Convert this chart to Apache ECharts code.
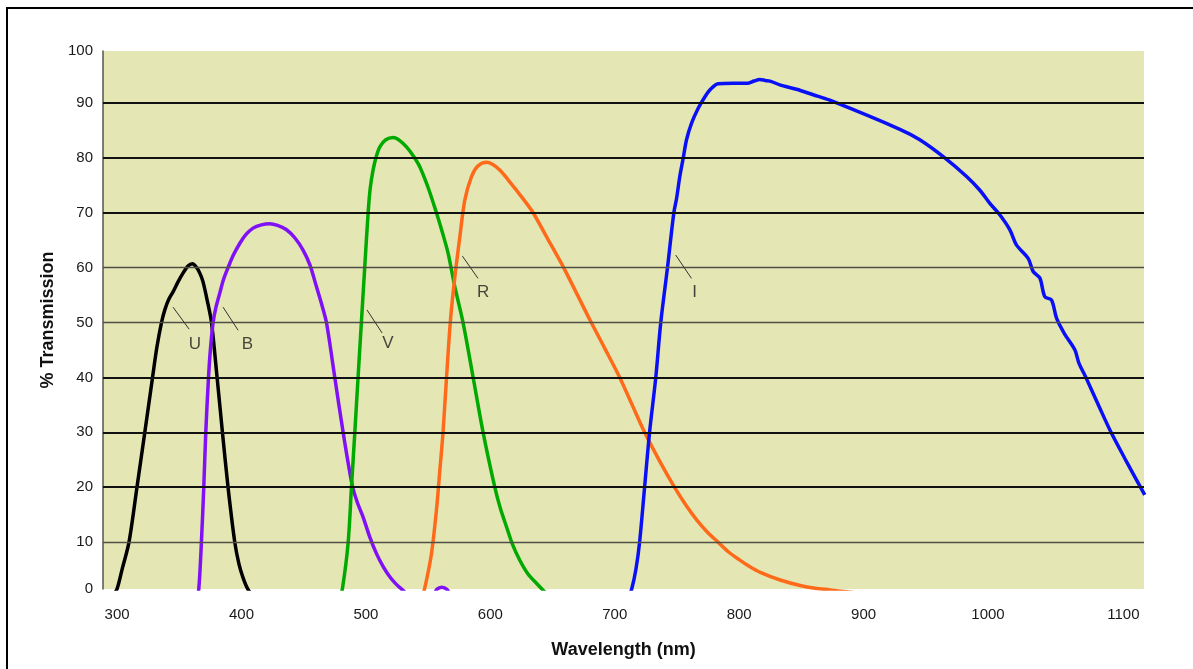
<!DOCTYPE html>
<html>
<head>
<meta charset="utf-8">
<title>UBVRI filter transmission</title>
<script src="https://cdn.jsdelivr.net/npm/echarts@6/dist/echarts.min.js"></script>
<style>
  html, body { margin: 0; padding: 0; background: #fff; overflow: hidden; }
  #chart { position: absolute; left: 0; top: 0; width: 1193px; height: 669px; }
  #frame {
    position: absolute; left: 6px; top: 7px; width: 1187px; height: 662px;
    border-left: 2px solid #000; border-top: 2px solid #000;
    box-sizing: border-box; pointer-events: none;
  }
</style>
</head>
<body>
<div id="chart"></div>
<div id="frame"></div>
<script>
// axis ranges (the plot edges sit a little outside the labelled ticks)
const xMin = 288.7;
const xMax = 1125.4;
const yMin = 1.46;
const yMax = 99.47;

// tick labels
const xTicks = [300, 400, 500, 600, 700, 800, 900, 1000, 1100];
const yTicks = [0, 10, 20, 30, 40, 50, 60, 70, 80, 90, 100];

// horizontal rules: heavy and light
const heavyRules = [20, 30, 40, 70, 80, 90];
const lightRules = [10, 50, 60];

// filter curves [wavelength nm, % transmission]
const uCurve = [
  [296, 0], [300, 1.5], [304, 5], [309.6, 10], [316, 20], [322.3, 30], [328.5, 40],
  [332, 45.5], [335.7, 50], [338.5, 52.4], [341.5, 54.2], [345, 55.6], [349, 57.4],
  [353, 59], [357, 60.3], [360.6, 60.7], [364, 60], [366.5, 59], [369, 57.5],
  [372.5, 54], [375.9, 50], [380.4, 40], [384.7, 30], [389.2, 20], [394.6, 10],
  [398, 6], [401.3, 3.5], [405, 1.5], [410, 0]
];
const bCurve = [
  [364, 0], [365.7, 1.5], [367.8, 10], [369.7, 20], [371.3, 30], [373.5, 40],
  [375, 45], [377.2, 50], [379.5, 52.8], [382.6, 55.4], [385.5, 57.8], [389.2, 60],
  [393.5, 62.3], [398.6, 64.4], [403.5, 66], [409.3, 67.2], [416, 67.8], [422.7, 68],
  [429, 67.7], [436.2, 66.9], [443, 65.4], [449.5, 63.2], [455, 60.5], [460.3, 56.5],
  [464.5, 53.3], [468.3, 50], [475, 40], [481.7, 30], [488.9, 20.5], [493, 17.3],
  [497.7, 14.6], [503, 11], [508.5, 7.9], [514, 5.5], [519.2, 3.7], [524.5, 2.3],
  [529.9, 1.2], [536, 0], [553, 0], [557, 1.4], [561, 1.8], [565, 1.4], [569, 0]
];
const vCurve = [
  [479, 0], [481.2, 1.6], [485.7, 9.8], [488.4, 20], [491.1, 30], [493.7, 40],
  [496.5, 50.5], [499.1, 60.2], [501.8, 70], [503.5, 74.5], [505.8, 77.8], [508.3, 80.2],
  [511.2, 82], [516, 83.3], [521.9, 83.7], [527, 83.2], [532.6, 82], [538, 80.4],
  [543.3, 78.4], [550, 74.6], [556.7, 70], [561.5, 66.4], [566.1, 62.6], [571.5, 56.5],
  [578.1, 50], [586.2, 40], [594.2, 30], [603.6, 20], [608, 16.2], [613, 12.8],
  [618, 9.5], [623.7, 6.7], [630, 4.3], [637.1, 2.5], [646, 0.5], [652, 0]
];
const rCurve = [
  [545, 0], [547.3, 1.6], [552.7, 7.9], [556.7, 15.8], [559.4, 23], [562, 30],
  [564.8, 40], [568, 50.5], [571.5, 58.3], [575.5, 65.6], [579.5, 72.3], [584.9, 76.6],
  [590, 78.5], [596.9, 79.2], [602, 78.8], [607.6, 77.8], [614, 76.1], [621, 74.1],
  [627.5, 72.2], [634.4, 70], [646, 65.3], [658.5, 60.2], [669, 55.5], [680, 50.5],
  [692, 45.3], [704, 40], [714, 35], [724, 30], [736, 24.8], [748, 20], [757, 16.8],
  [766, 14], [774.5, 11.8], [783, 10], [791.5, 8.2], [800, 6.8], [808, 5.6], [817, 4.5],
  [833, 3.1], [849, 2.1], [861, 1.6], [873, 1.3], [900, 0.6], [930, 0]
];
const iCurve = [
  [711, 0], [713.7, 1.5], [717, 5], [720, 10], [724, 20], [728, 30], [733, 40],
  [737, 50], [742.4, 60], [747.5, 70], [749.7, 72.6], [752.3, 76.6], [755, 79.9],
  [757.7, 83.3], [761.7, 86.3], [767, 89], [772.4, 91.1], [777, 92.5], [783.1, 93.5],
  [795.2, 93.6], [807.2, 93.6], [812, 94], [816.6, 94.3], [821, 94.1], [826, 93.9],
  [832.7, 93.3], [846.1, 92.5], [859.5, 91.5], [872.9, 90.5], [929.2, 85.2],
  [945.2, 83.3], [965.3, 80], [982.8, 76.6], [993.5, 74.1], [1001.5, 71.7],
  [1009.6, 69.6], [1017.6, 66.9], [1023, 64.1], [1032.3, 61.7], [1036.3, 59.3],
  [1041.7, 58.1], [1045.7, 54.7], [1051.1, 54.1], [1055.1, 50.8], [1061.4, 48],
  [1069.9, 45], [1073.1, 42.6], [1078.5, 40.1], [1089.3, 34.7], [1098.7, 30.1],
  [1110.8, 24.9], [1126, 18.6]
];

// curve labels and their leader lines
const labelNames = ['U', 'B', 'V', 'R', 'I'];
const labelPoints = [[362.5, 46.1], [404.8, 46.0], [517.8, 46.2], [594.2, 55.5], [764.3, 55.6]];
const leaderStarts = [[345.0, 52.8], [385.2, 52.8], [500.9, 52.3], [577.6, 62.1], [749.0, 62.3]];
const leaderEnds = [[357.9, 48.8], [397.3, 48.6], [513.0, 48.1], [590.1, 58.05], [761.7, 58.05]];

const curveSeries = [
  { name: 'U', data: uCurve, color: '#000000' },
  { name: 'B', data: bCurve, color: '#8010F5' },
  { name: 'V', data: vCurve, color: '#00AA00' },
  { name: 'R', data: rCurve, color: '#FF6A1A' },
  { name: 'I', data: iCurve, color: '#0A10F5' }
];

const tickFont = { fontFamily: 'Liberation Sans, Arial, sans-serif', fontSize: 15, color: '#1a1a1a' };
const titleFont = { fontFamily: 'Liberation Sans, Arial, sans-serif', fontSize: 18, fontWeight: 'bold', color: '#111' };

const chart = echarts.init(document.getElementById('chart'));

const option = {
  animation: false,
  grid: {
    left: 103, top: 51, right: 49, bottom: 80,
    show: true, backgroundColor: '#E4E6B3', borderWidth: 0
  },
  xAxis: {
    type: 'value',
    min: xMin,
    max: xMax,
    name: 'Wavelength (nm)',
    nameLocation: 'middle',
    nameGap: 52,
    nameTextStyle: titleFont,
    axisLine: { show: false },
    axisTick: { show: false },
    splitLine: { show: false },
    axisLabel: {
      ...tickFont,
      customValues: xTicks,
      margin: 18,
      formatter: (v) => (v === 1100 ? '{last|1100}' : String(v)),
      rich: { last: { ...tickFont, padding: [0, 0, 0, 22] } }
    }
  },
  yAxis: {
    type: 'value',
    min: yMin,
    max: yMax,
    name: '% Transmission',
    nameLocation: 'middle',
    nameGap: 46,
    nameTextStyle: titleFont,
    axisLine: { show: true, lineStyle: { color: '#555', width: 1.5 } },
    axisTick: { show: false },
    splitLine: { show: false },
    axisLabel: {
      ...tickFont,
      margin: 10,
      // 0 and 100 are drawn at the plot edges
      customValues: yTicks.map((v) => Math.min(Math.max(v, yMin), yMax)),
      formatter: (v) => String(Math.round(v / 10) * 10)
    }
  },
  series: [
    {
      // horizontal rules
      type: 'line',
      data: [],
      z: 1,
      silent: true,
      markLine: {
        silent: true,
        symbol: ['none', 'none'],
        label: { show: false },
        data: [
          ...heavyRules.map((v) => ({ yAxis: v, lineStyle: { color: '#111', width: 2.2, type: 'solid' } })),
          ...lightRules.map((v) => ({ yAxis: v, lineStyle: { color: '#4f4f45', width: 1.3, type: 'solid' } }))
        ]
      }
    },
    ...curveSeries.map((s) => ({
      name: s.name,
      type: 'line',
      data: s.data,
      z: 3,
      smooth: 0.3,
      showSymbol: false,
      clip: true,
      lineStyle: { color: s.color, width: 3.5 }
    })),
    {
      // curve letters and leader lines
      type: 'scatter',
      z: 4,
      silent: true,
      symbolSize: 1,
      itemStyle: { color: 'rgba(0,0,0,0)' },
      data: labelPoints.map((p, i) => ({ value: p, name: labelNames[i] })),
      label: {
        show: true,
        position: 'inside',
        formatter: (p) => p.name,
        fontFamily: 'Liberation Sans Narrow, Liberation Sans, Arial, sans-serif',
        fontSize: 17,
        color: '#1a1a1a'
      },
      markLine: {
        silent: true,
        symbol: ['none', 'none'],
        label: { show: false },
        lineStyle: { color: '#333', width: 1, type: 'solid' },
        data: leaderStarts.map((p, i) => [{ coord: p }, { coord: leaderEnds[i] }])
      }
    }
  ]
};

chart.setOption(option);
</script>
</body>
</html>
